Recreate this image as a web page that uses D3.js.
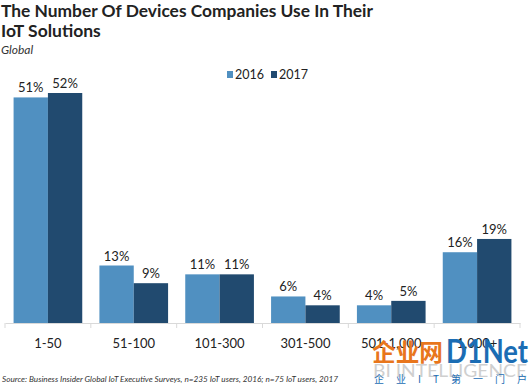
<!DOCTYPE html>
<html>
<head>
<meta charset="utf-8">
<script src="https://cdn.jsdelivr.net/npm/d3@7"></script>
<style>
body { margin: 0; background: #fff; }
svg { display: block; font-family: Lato, "Open Sans", sans-serif; }
</style>
</head>
<body>
<div id="chart"></div>
<script>
var categories = ["1-50", "51-100", "101-300", "301-500", "501-1,000", "1,000+"]
var years = ["2016", "2017"]
var values2016 = [51, 13, 11, 6, 4, 16]
var values2017 = [52, 9, 11, 4, 5, 19]
var colors = ["#5090c1", "#214a6f"]

var width = 530, height = 385
var baseY = 323

var svg = d3.select("#chart").append("svg")
    .attr("width", width)
    .attr("height", height)

// title
svg.append("text").attr("x", 1).attr("y", 17)
    .attr("font-size", 17.5).attr("font-weight", "bold").attr("fill", "#222")
    .attr("textLength", 372).attr("lengthAdjust", "spacingAndGlyphs")
    .text("The Number Of Devices Companies Use In Their")
svg.append("text").attr("x", 1).attr("y", 37)
    .attr("font-size", 17.5).attr("font-weight", "bold").attr("fill", "#222")
    .text("IoT Solutions")
svg.append("text").attr("x", 1).attr("y", 54)
    .attr("font-size", 12).attr("font-style", "italic").attr("fill", "#333")
    .text("Global")

// legend
var legend = svg.selectAll(".leg").data(years).enter().append("g")
    .attr("transform", function(d, i) { return "translate(" + (227 + i * 44) + ",71)" })
legend.append("rect").attr("width", 6).attr("height", 7)
    .attr("fill", function(d, i) { return colors[i] })
legend.append("text").attr("x", 8).attr("y", 7.5)
    .attr("font-size", 12.5).attr("fill", "#222")
    .text(function(d) { return d })

var x = d3.scaleBand().domain(categories).range([5, 520])
    .paddingInner(0.2).paddingOuter(0.1)
var xs = d3.scaleBand().domain(years).range([0, x.bandwidth()])
var y = d3.scaleLinear().domain([0, 52]).range([baseY, 93])

var rows = categories.map(function(c, i) {
    return { cat: c, vals: [values2016[i], values2017[i]] }
})

var groups = svg.selectAll(".grp").data(rows).enter().append("g")
    .attr("transform", function(d) { return "translate(" + x(d.cat) + ",0)" })

groups.selectAll("rect")
    .data(function(d) { return d.vals.map(function(v, i) { return { year: years[i], v: v, i: i } }) })
    .enter().append("rect")
    .attr("x", function(d) { return xs(d.year) })
    .attr("y", function(d) { return y(d.v) })
    .attr("width", xs.bandwidth())
    .attr("height", function(d) { return baseY - y(d.v) })
    .attr("fill", function(d) { return colors[d.i] })

groups.selectAll(".lbl")
    .data(function(d) { return d.vals.map(function(v, i) { return { year: years[i], v: v } }) })
    .enter().append("text")
    .attr("x", function(d) { return xs(d.year) + xs.bandwidth() / 2 })
    .attr("y", function(d) { return y(d.v) - 5 })
    .attr("text-anchor", "middle")
    .attr("font-size", 13).attr("fill", "#222")
    .text(function(d) { return d.v + "%" })

// x axis
var axis = svg.append("g").attr("transform", "translate(0," + baseY + ")")
    .call(d3.axisBottom(x).tickSize(0).tickPadding(16))
axis.select(".domain").attr("stroke", "#d9d9d9")
axis.selectAll("text").attr("font-size", 13).attr("fill", "#222")
    .attr("font-family", "Lato, 'Open Sans', sans-serif")
var step = x.step()
var seps = d3.range(7).map(function(i) { return x(categories[0]) - step * 0.1 + i * step })
axis.selectAll(".sep").data(seps).enter().append("line")
    .attr("x1", function(d) { return d }).attr("x2", function(d) { return d })
    .attr("y1", 0).attr("y2", 5).attr("stroke", "#d9d9d9")

// source
svg.append("text").attr("x", 2).attr("y", 382)
    .attr("font-size", 8.5).attr("font-style", "italic").attr("fill", "#333")
    .attr("textLength", 336).attr("lengthAdjust", "spacingAndGlyphs")
    .text("Source: Business Insider Global IoT Executive Surveys, n=235 IoT users, 2016; n=75 IoT users, 2017")

// watermark
svg.append("text").attr("x", 373).attr("y", 377)
    .attr("font-size", 17).attr("fill", "#cfcfcf")
    .attr("textLength", 154).attr("lengthAdjust", "spacingAndGlyphs")
    .text("BI INTELLIGENCE")
svg.append("text").attr("x", 372).attr("y", 361)
    .attr("font-size", 24).attr("font-weight", "bold").attr("fill", "#e8761c")
    .attr("font-family", "'Noto Sans CJK SC', sans-serif")
    .attr("textLength", 71).attr("lengthAdjust", "spacingAndGlyphs")
    .text("企业网")
svg.append("text").attr("x", 446).attr("y", 363)
    .attr("font-size", 33).attr("font-weight", "bold").attr("fill", "#1b6db4")
    .attr("textLength", 82).attr("lengthAdjust", "spacingAndGlyphs")
    .text("D1Net")
svg.append("text").attr("x", 374).attr("y", 383)
    .attr("font-size", 10).attr("fill", "#1b6db4")
    .attr("font-family", "'Noto Sans CJK SC', sans-serif")
    .attr("textLength", 153).attr("lengthAdjust", "spacing")
    .text("企业IT第一门户")
</script>
</body>
</html>
